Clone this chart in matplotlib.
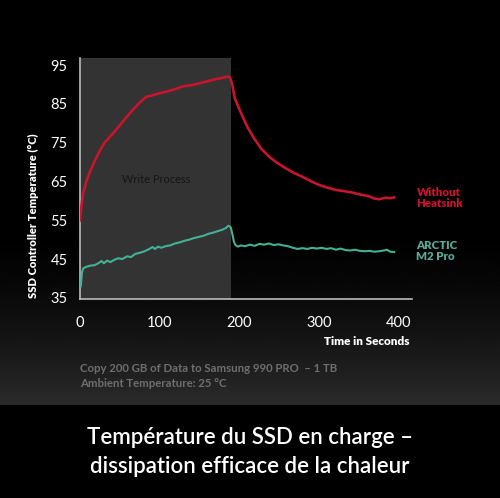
import matplotlib
matplotlib.use("Agg")
import matplotlib.pyplot as plt
import numpy as np

plt.rcParams['font.family'] = ['Lato', 'DejaVu Sans']

# ---- data ----
red_t = [0, 2, 4, 8, 12.5, 19, 25, 31, 37.5, 44, 50, 58, 66, 75, 83, 91, 99, 108,
         118, 129, 140, 150, 158, 167, 176, 185, 188, 191, 194, 199, 204, 210, 217,
         227, 237, 247, 258, 268, 279, 289, 300, 310, 321, 331, 342, 352, 362, 369,
         375, 383, 390, 394]
red_v = [55, 59, 62, 65, 67.5, 70.5, 73, 75, 76.5, 78, 79.5, 81.5, 83.4, 85.3, 86.8,
         87.2, 87.7, 88.1, 88.7, 89.5, 89.8, 90.3, 90.7, 91.2, 91.6, 92.0, 91.8, 90.0,
         86.5, 84.0, 81.7, 79.0, 76.5, 73.5, 71.4, 69.8, 68.4, 67.2, 66.2, 65.1, 64.1,
         63.4, 62.8, 62.5, 62.1, 61.6, 61.2, 60.6, 60.4, 60.8, 60.7, 60.9]

teal_t = [1, 2.5, 4, 8, 13, 18, 23, 27, 30, 34, 38, 43, 48, 53, 59, 64, 69, 75, 81,
          87, 91, 94, 98, 102, 107, 113, 119, 125, 131, 137, 143, 149, 155, 161, 167,
          173, 179, 183, 186, 189, 191, 193, 195, 198, 202, 207, 213, 219, 225, 231,
          237, 243, 249, 255, 261, 267, 273, 279, 285, 291, 297, 303, 309, 315, 321,
          327, 333, 339, 345, 351, 357, 363, 369, 375, 381, 385, 389, 394]
teal_v = [38.0, 41.5, 42.6, 43.0, 43.3, 43.4, 43.9, 44.5, 43.9, 44.6, 44.2, 44.8, 45.2,
          45.0, 45.7, 45.5, 46.3, 46.6, 47.0, 47.6, 48.1, 47.6, 48.2, 47.9, 48.3, 48.5,
          49.0, 49.3, 49.7, 50.0, 50.4, 50.7, 51.0, 51.5, 51.8, 52.2, 52.6, 53.0, 53.6,
          53.2, 51.5, 49.5, 48.6, 48.2, 48.5, 48.3, 48.7, 48.4, 48.9, 48.7, 49.0, 48.6,
          48.8, 48.5, 48.3, 47.9, 47.6, 47.8, 47.6, 47.9, 47.7, 47.9, 47.6, 47.8, 47.4,
          47.7, 47.3, 47.2, 47.4, 47.1, 47.0, 47.1, 46.9, 47.0, 47.2, 47.4, 46.9, 46.8]

x_ticks = [0, 100, 200, 300, 400]
y_ticks = [35, 45, 55, 65, 75, 85, 95]
write_end = 189

RED = '#c8142c'
TEAL = '#43b196'

fig = plt.figure(figsize=(5, 4.98), dpi=100)
fig.patch.set_facecolor('black')

# background gradient
bg = fig.add_axes([0, 0, 1, 1], zorder=-10)
H = 498
col = np.zeros((H, 1))
for i in range(H):
    if i < 405:
        if i > 230:
            col[i, 0] = ((i - 230) / (405 - 230)) ** 1.5 * 0.17
    else:
        col[i, 0] = 0.0
img = np.repeat(col, 10, axis=1)
bg.imshow(img, cmap='gray', vmin=0, vmax=1, aspect='auto', extent=[0, 1, 0, 1])
bg.set_axis_off()

ax = fig.add_axes([0.16, 0.3996, 0.6634, 0.4839])
ax.set_facecolor('none')
ax.set_xlim(0, 416)
ax.set_ylim(34.7, 96.8)

ax.axvspan(0, write_end, color='#333333', zorder=0, lw=0)
ax.plot(red_t, red_v, color=RED, lw=1.9, zorder=3)
ax.plot(teal_t, teal_v, color=TEAL, lw=1.5, zorder=3)

ax.text(95, 65.5, 'Write Process', color='#151515', fontsize=7.9, ha='center', va='center')

for s in ['top', 'right']:
    ax.spines[s].set_visible(False)
for s in ['left', 'bottom']:
    ax.spines[s].set_color('#bbbbbb')
    ax.spines[s].set_linewidth(1.2)

ax.set_xticks(x_ticks)
ax.set_yticks(y_ticks)
ax.tick_params(axis='y', length=0, colors='white', labelsize=10.5, pad=9)
ax.tick_params(axis='x', length=0, colors='white', labelsize=10.5, pad=12)

fig.text(0.066, 1 - 215.5 / 498, 'SSD Controller Temperature (°C)', rotation=90, color='white',
         fontsize=8.0, fontweight='heavy', ha='center', va='center')
fig.text(0.82, 1 - 341.5 / 498, 'Time in Seconds', color='white', fontsize=8.5,
         fontweight='heavy', ha='right', va='center')

fig.text(0.833, 1 - 198 / 498, 'Without\nHeatsink', color=RED, fontsize=8.3,
         fontweight='heavy', ha='left', va='center', linespacing=1.0)
fig.text(0.833, 1 - 251 / 498, 'ARCTIC\nM2 Pro', color='#5aa897', fontsize=8.3,
         fontweight='heavy', ha='left', va='center', linespacing=1.0)

fig.text(0.16, 1 - 368 / 498, 'Copy 200 GB of Data to Samsung 990 PRO  – 1 TB',
         color='#6e6e6e', fontsize=8.2, fontweight='bold', ha='left', va='center')
fig.text(0.16, 1 - 383 / 498, 'Ambient Temperature: 25 °C',
         color='#6e6e6e', fontsize=8.2, fontweight='bold', ha='left', va='center')

fig.text(0.5, 1 - 437 / 498, 'Température du SSD en charge –', color='white',
         fontsize=16, ha='center', va='center', fontweight='semibold')
fig.text(0.5, 1 - 466 / 498, 'dissipation efficace de la chaleur', color='white',
         fontsize=16, ha='center', va='center', fontweight='semibold')

fig.savefig('out.png', dpi=100, facecolor='black')
